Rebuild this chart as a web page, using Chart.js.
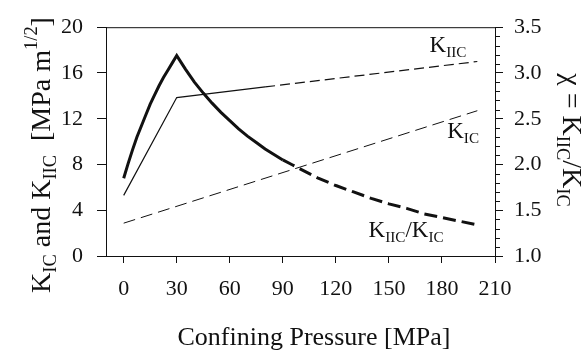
<!DOCTYPE html>
<html>
<head>
<meta charset="utf-8">
<script src="https://cdn.jsdelivr.net/npm/chart.js@4"></script>
<style>
  html, body { margin: 0; padding: 0; background: #fff; }
  #wrap { width: 586px; height: 351px; }
</style>
</head>
<body>
<div id="wrap"><canvas id="chart" width="586" height="351"></canvas></div>
<script>
// confining pressure [MPa] where each curve is read
var kicPressure = [0, 200];
var kic = [2.87, 12.70];
var kiicPressure = [0, 30, 80, 200];
var kiic = [5.30, 13.85, 14.78, 17.00];
// chi = KIIC / KIC (right axis)
var ratioPressure = [0, 2.5, 5, 7.5, 10, 12.5, 15, 17.5, 20, 22.5, 25, 27.5, 30,
    35, 40, 45, 50, 55, 60, 65, 70, 75, 80, 85, 90, 95, 100,
    110, 120, 130, 140, 150, 160, 170, 180, 190, 200];
var ratio = [1.85, 2.01, 2.16, 2.30, 2.42, 2.54, 2.66, 2.76, 2.86, 2.95, 3.03, 3.11, 3.19,
    3.04, 2.90, 2.78, 2.67, 2.57, 2.48, 2.39, 2.31, 2.24, 2.17, 2.11, 2.05, 2.00, 1.95,
    1.85, 1.77, 1.70, 1.63, 1.57, 1.52, 1.46, 1.42, 1.38, 1.34];

var xTicks = [0, 30, 60, 90, 120, 150, 180, 210];
var leftTicks = [0, 4, 8, 12, 16, 20];
var rightTicks = [1.0, 1.5, 2.0, 2.5, 3.0, 3.5];

var SERIF = '"Liberation Serif", "DejaVu Serif", serif';
var INK = '#111';

function pts(xs, ys) {
    return xs.map(function(x, i) { return { x: x, y: ys[i] }; });
}

function setTicks(list) {
    return function(scale) {
        scale.ticks = list.map(function(v) { return { value: v }; });
    };
}

// draws text made of normal / sub / sup runs, centred or left aligned
function drawRich(ctx, parts, x, y, size, align) {
    var runs = parts.map(function(p) {
        var s = p.k === 'n' ? size : size * 0.66;
        ctx.font = s + 'px ' + SERIF;
        return { t: p.t, k: p.k, s: s, w: ctx.measureText(p.t).width };
    });
    var total = runs.reduce(function(a, r) { return a + r.w; }, 0);
    var cx = align === 'center' ? x - total / 2 : x;
    ctx.textAlign = 'left';
    ctx.textBaseline = 'alphabetic';
    runs.forEach(function(r) {
        ctx.font = r.s + 'px ' + SERIF;
        var dy = r.k === 'sub' ? size * 0.22 : (r.k === 'sup' ? -size * 0.45 : 0);
        ctx.fillText(r.t, cx, y + dy);
        cx += r.w;
    });
}

var decorations = {
    id: 'decorations',
    afterDraw: function(chart) {
        var ctx = chart.ctx;
        var area = chart.chartArea;
        var sx = chart.scales.x, sl = chart.scales.y, sr = chart.scales.y1;
        ctx.save();
        ctx.strokeStyle = INK;
        ctx.lineWidth = 1;
        // top frame line
        ctx.beginPath();
        ctx.moveTo(area.left, area.top + 0.5);
        ctx.lineTo(area.right, area.top + 0.5);
        ctx.stroke();
        // minor ticks on the right axis
        for (var v = 11; v < 35; v++) {
            if (v % 5 === 0) continue;
            var py = Math.round(sr.getPixelForValue(v / 10)) + 0.5;
            ctx.beginPath();
            ctx.moveTo(area.right, py);
            ctx.lineTo(area.right + 5, py);
            ctx.stroke();
        }

        ctx.fillStyle = INK;
        // curve labels
        drawRich(ctx, [{ t: 'K', k: 'n' }, { t: 'IIC', k: 'sub' }],
            sx.getPixelForValue(173), sl.getPixelForValue(17.85), 23, 'left');
        drawRich(ctx, [{ t: 'K', k: 'n' }, { t: 'IC', k: 'sub' }],
            sx.getPixelForValue(183), sl.getPixelForValue(10.3), 23, 'left');
        drawRich(ctx, [{ t: 'K', k: 'n' }, { t: 'IIC', k: 'sub' }, { t: '/K', k: 'n' }, { t: 'IC', k: 'sub' }],
            sx.getPixelForValue(138.5), sl.getPixelForValue(1.7), 23, 'left');

        // x axis title
        drawRich(ctx, [{ t: 'Confining Pressure [MPa]', k: 'n' }], 314, 345, 26, 'center');

        // left axis title
        ctx.save();
        ctx.translate(50, 155);
        ctx.rotate(-Math.PI / 2);
        drawRich(ctx, [
            { t: 'K', k: 'n' }, { t: 'IC', k: 'sub' }, { t: ' and K', k: 'n' }, { t: 'IIC', k: 'sub' },
            { t: '  [MPa m', k: 'n' }, { t: '1/2', k: 'sup' }, { t: ']', k: 'n' }
        ], 0, 0, 28, 'center');
        ctx.restore();

        // right axis title
        ctx.save();
        ctx.translate(563, 140);
        ctx.rotate(Math.PI / 2);
        drawRich(ctx, [
            { t: '\u03c7 = K', k: 'n' }, { t: 'IIC', k: 'sub' }, { t: '/K', k: 'n' }, { t: 'IC', k: 'sub' }
        ], 0, 0, 28, 'center');
        ctx.restore();
        ctx.restore();
    }
};

var tickFont = { family: SERIF, size: 22 };

new Chart(document.getElementById('chart'), {
    type: 'line',
    data: {
        datasets: [
            {
                label: 'KIC',
                data: pts(kicPressure, kic),
                yAxisID: 'y',
                borderColor: INK,
                borderWidth: 1,
                borderDash: [12, 6]
            },
            {
                label: 'KIIC',
                data: pts(kiicPressure, kiic),
                yAxisID: 'y',
                borderColor: INK,
                borderWidth: 1.2,
                segment: {
                    borderDash: function(c) { return c.p0.parsed.x >= 80 ? [10, 5] : undefined; }
                }
            },
            {
                label: 'KIIC/KIC',
                data: pts(ratioPressure, ratio),
                yAxisID: 'y1',
                borderColor: INK,
                borderWidth: 3,
                segment: {
                    borderDash: function(c) { return c.p0.parsed.x >= 90 ? [13, 6] : undefined; }
                }
            }
        ]
    },
    options: {
        responsive: false,
        animation: false,
        devicePixelRatio: 1,
        events: [],
        layout: { padding: { top: 21, left: 0, right: 0, bottom: 0 } },
        elements: {
            point: { radius: 0 },
            line: { tension: 0, fill: false }
        },
        plugins: {
            legend: { display: false },
            tooltip: { enabled: false }
        },
        scales: {
            x: {
                type: 'linear',
                min: -10,
                max: 210,
                afterBuildTicks: setTicks(xTicks),
                afterFit: function(s) { s.height = 95; },
                grid: { drawOnChartArea: false, tickLength: 7, color: INK },
                border: { color: INK, width: 1 },
                ticks: { color: INK, font: tickFont, padding: 13, maxRotation: 0 }
            },
            y: {
                type: 'linear',
                position: 'left',
                min: 0,
                max: 20,
                afterBuildTicks: setTicks(leftTicks),
                afterFit: function(s) { s.width = 106; },
                grid: { drawOnChartArea: false, tickLength: 9, color: INK },
                border: { color: INK, width: 1 },
                ticks: { color: INK, font: tickFont, padding: 14 }
            },
            y1: {
                type: 'linear',
                position: 'right',
                min: 1,
                max: 3.5,
                afterBuildTicks: setTicks(rightTicks),
                afterFit: function(s) { s.width = 91; },
                grid: { drawOnChartArea: false, tickLength: 8, color: INK },
                border: { color: INK, width: 1 },
                ticks: {
                    color: INK, font: tickFont, padding: 11,
                    callback: function(v) { return v.toFixed(1); }
                }
            }
        }
    },
    plugins: [decorations]
});
</script>
</body>
</html>
